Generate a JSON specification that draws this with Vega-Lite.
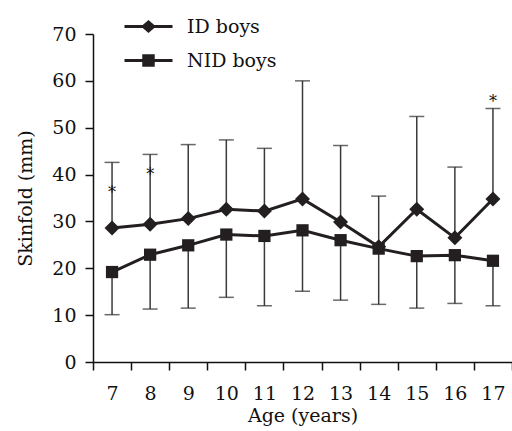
{
  "$schema": "https://vega.github.io/schema/vega-lite/v6.json",
  "width": 419,
  "height": 328,
  "autosize": {"type": "none"},
  "padding": {"left": 93, "top": 34, "right": 0, "bottom": 69},
  "background": "white",
  "config": {
    "view": {"stroke": null},
    "font": "DejaVu Serif",
    "axis": {
      "grid": false,
      "domainColor": "#111",
      "domainWidth": 1.5,
      "tickColor": "#111",
      "tickWidth": 1.5,
      "tickSize": 8,
      "labelFont": "DejaVu Serif",
      "labelFontSize": 19,
      "labelColor": "#111",
      "titleFont": "DejaVu Serif",
      "titleFontSize": 19,
      "titleFontWeight": "normal",
      "titleColor": "#111"
    },
    "legend": {
      "labelFont": "DejaVu Serif",
      "labelFontSize": 19,
      "labelColor": "#111"
    }
  },
  "datasets": {
    "main": [
      {"age": 7, "group": "ID boys", "mean": 28.6, "bound": 42.6},
      {"age": 8, "group": "ID boys", "mean": 29.4, "bound": 44.3},
      {"age": 9, "group": "ID boys", "mean": 30.6, "bound": 46.4},
      {"age": 10, "group": "ID boys", "mean": 32.6, "bound": 47.4},
      {"age": 11, "group": "ID boys", "mean": 32.2, "bound": 45.6},
      {"age": 12, "group": "ID boys", "mean": 34.8, "bound": 60.0},
      {"age": 13, "group": "ID boys", "mean": 29.9, "bound": 46.2},
      {"age": 14, "group": "ID boys", "mean": 24.6, "bound": 35.4},
      {"age": 15, "group": "ID boys", "mean": 32.6, "bound": 52.4},
      {"age": 16, "group": "ID boys", "mean": 26.5, "bound": 41.6},
      {"age": 17, "group": "ID boys", "mean": 34.8, "bound": 54.1},
      {"age": 7, "group": "NID boys", "mean": 19.2, "bound": 10.1},
      {"age": 8, "group": "NID boys", "mean": 22.9, "bound": 11.3},
      {"age": 9, "group": "NID boys", "mean": 24.9, "bound": 11.5},
      {"age": 10, "group": "NID boys", "mean": 27.2, "bound": 13.8},
      {"age": 11, "group": "NID boys", "mean": 26.9, "bound": 12.0},
      {"age": 12, "group": "NID boys", "mean": 28.1, "bound": 15.1},
      {"age": 13, "group": "NID boys", "mean": 26.0, "bound": 13.2},
      {"age": 14, "group": "NID boys", "mean": 24.2, "bound": 12.3},
      {"age": 15, "group": "NID boys", "mean": 22.6, "bound": 11.5},
      {"age": 16, "group": "NID boys", "mean": 22.8, "bound": 12.5},
      {"age": 17, "group": "NID boys", "mean": 21.6, "bound": 12.0}
    ],
    "stars": [
      {"age": 7, "pos": 36.9, "label": "*"},
      {"age": 8, "pos": 40.7, "label": "*"},
      {"age": 17, "pos": 56.4, "label": "*"}
    ]
  },
  "encoding": {
    "x": {
      "field": "age",
      "type": "ordinal",
      "scale": {"type": "band", "paddingInner": 0, "paddingOuter": 0},
      "axis": {"title": "Age (years)", "labelAngle": 0, "tickBand": "extent", "labelPadding": 14, "titlePadding": 3}
    }
  },
  "layer": [
    {
      "data": {"name": "main"},
      "mark": {"type": "rule", "color": "#3a3a3a", "strokeWidth": 1.5},
      "encoding": {
        "y": {"field": "mean", "type": "quantitative", "scale": {"domain": [0, 70], "nice": false, "zero": true}, "axis": {"title": "Skinfold (mm)", "values": [0, 10, 20, 30, 40, 50, 60, 70], "labelPadding": 9, "titlePadding": 16}},
        "y2": {"field": "bound"}
      }
    },
    {
      "data": {"name": "main"},
      "mark": {"type": "tick", "color": "#2a2a2a", "size": 15, "thickness": 1.5, "orient": "horizontal"},
      "encoding": {
        "y": {"field": "bound", "type": "quantitative"}
      }
    },
    {
      "data": {"name": "main"},
      "mark": {"type": "line", "color": "#231f20", "strokeWidth": 3},
      "encoding": {
        "y": {"field": "mean", "type": "quantitative"},
        "detail": {"field": "group"}
      }
    },
    {
      "data": {"name": "main"},
      "mark": {"type": "point", "filled": true, "color": "#231f20", "opacity": 1},
      "encoding": {
        "y": {"field": "mean", "type": "quantitative"},
        "shape": {"field": "group", "type": "nominal", "scale": {"domain": ["ID boys", "NID boys"], "range": ["diamond", "square"]}, "legend": null},
        "size": {"field": "group", "type": "nominal", "scale": {"domain": ["ID boys", "NID boys"], "range": [225, 150]}, "legend": null}
      }
    },
    {
      "data": {"name": "main"},
      "mark": {"type": "point", "filled": true, "color": "#231f20", "opacity": 0},
      "encoding": {
        "y": {"field": "mean", "type": "quantitative"},
        "shape": {
          "field": "group",
          "type": "nominal",
          "scale": {"domain": ["ID boys", "NID boys"], "range": [
            "M-3,-0.19L3,-0.19L3,0.19L-3,0.19Z M0,-0.82L0.94,0L0,0.82L-0.94,0Z",
            "M-3,-0.19L3,-0.19L3,0.19L-3,0.19Z M-0.78,-0.78L0.78,-0.78L0.78,0.78L-0.78,0.78Z"
          ]},
          "legend": {
            "title": null,
            "orient": "none",
            "legendX": 46,
            "legendY": -17,
            "padding": 0,
            "symbolSize": 256,
            "symbolOpacity": 1,
            "symbolFillColor": "#231f20",
            "symbolStrokeWidth": 0,
            "labelOffset": 29,
            "rowPadding": 14
          }
        }
      }
    },
    {
      "data": {"name": "stars"},
      "mark": {"type": "text", "fontSize": 16, "color": "#111", "baseline": "middle", "dy": 4},
      "encoding": {
        "y": {"field": "pos", "type": "quantitative"},
        "text": {"field": "label"}
      }
    }
  ],
  "resolve": {"scale": {"shape": "independent", "size": "independent"}}
}
